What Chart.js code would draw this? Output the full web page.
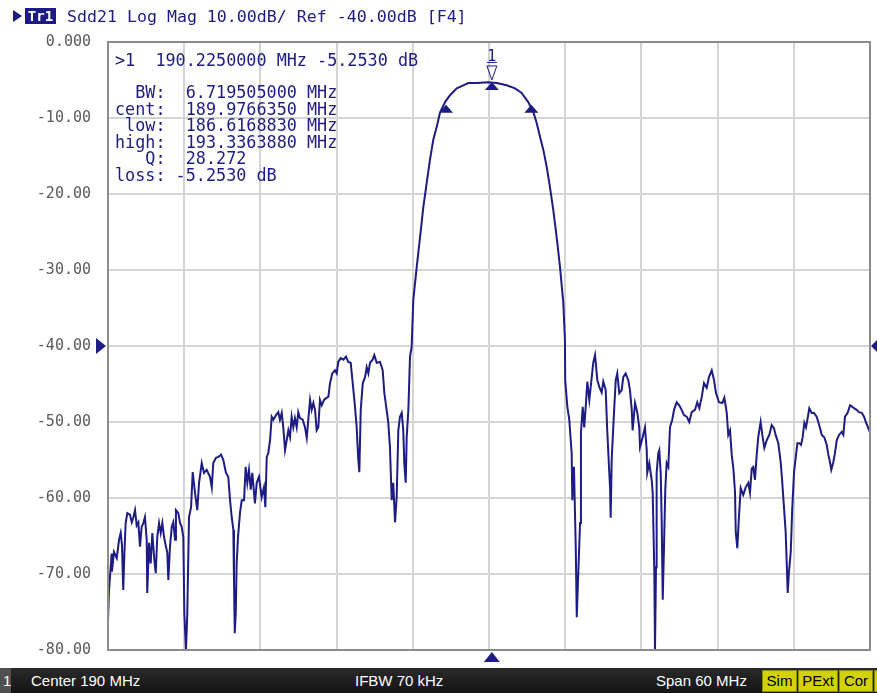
<!DOCTYPE html>
<html>
<head>
<meta charset="utf-8">
<script src="https://cdn.jsdelivr.net/npm/chart.js@4.4.1/dist/chart.umd.min.js"></script>
<style>
  html, body { margin: 0; padding: 0; background: #ffffff; }
  #wrap { position: relative; width: 877px; height: 693px; overflow: hidden; background: #fff; }
  #c { position: absolute; left: 0; top: 0; }
  .mono { position: absolute; font-family: "DejaVu Sans Mono", monospace; white-space: pre; color: #1c1c84; line-height: 1; }
  #tri { position: absolute; left: 13px; top: 10px; width: 0; height: 0;
         border-left: 9px solid #1c1c84; border-top: 6px solid transparent; border-bottom: 6px solid transparent; }
  #tr1 { position: absolute; left: 25px; top: 8px; width: 31px; height: 16px; background: #1c1c84; color: #fff;
         font-family: "DejaVu Sans Mono", monospace; font-weight: bold; font-size: 14px; line-height: 16px; text-align: center; }
  #status { position: absolute; left: 0; top: 668px; width: 877px; height: 25px;
            background: linear-gradient(#2a2a2a, #141414); color: #fff;
            font-family: "Liberation Sans Narrow", "Liberation Sans", sans-serif; font-size: 15px; }
  #status span { position: absolute; top: 4px; line-height: 17px; }
  .yb { position: absolute; top: 2px; height: 20px; background: #d2d200; color: #000; border: 1px solid #8a8a00;
        font-family: "Liberation Sans Narrow", "Liberation Sans", sans-serif; font-size: 15px; line-height: 20px; text-align: center; }
</style>
</head>
<body>
<div id="wrap">
  <canvas id="c" width="877" height="693"></canvas>
  <div id="tri"></div>
  <div id="tr1">Tr1</div>
  <div class="mono" style="left:67px; top:9px; font-size:16.6px;">Sdd21 Log Mag 10.00dB/ Ref -40.00dB [F4]</div>
  <div class="mono" style="left:115px; top:52px; font-size:16.8px;">&gt;1  190.2250000 MHz -5.2530 dB</div>
  <div class="mono" style="left:115px; top:84px; font-size:16.8px; line-height:16.5px;">  BW:  6.719505000 MHz
cent:  189.9766350 MHz
 low:  186.6168830 MHz
high:  193.3363880 MHz
   Q:  28.272
loss: -5.2530 dB</div>
  <div id="status">
    <div style="position:absolute;left:0;top:0;width:11px;height:25px;background:#505050;"></div>
    <span style="left:3px;">1</span>
    <span style="left:31px;">Center 190 MHz</span>
    <span style="left:355px;">IFBW 70 kHz</span>
    <span style="left:656px;">Span 60 MHz</span>
    <div class="yb" style="left:762px; width:33px;">Sim</div>
    <div class="yb" style="left:798px; width:38px;">PExt</div>
    <div class="yb" style="left:839px; width:32px;">Cor</div>
    <div class="yb" style="left:874px; width:8px;"></div>
  </div>
</div>
<script>
// ---- data (frequency in MHz, Sdd21 in dB) ----
const freqMHz = [
160.00,160.08,160.29,160.31,160.47,160.69,160.87,161.00,161.10,161.20,161.28,161.39,161.52,161.73,161.87,161.99,162.13,162.26,162.39,162.52,
162.65,162.78,162.91,163.05,163.09,163.23,163.36,163.49,163.65,163.76,163.88,164.02,164.15,164.28,164.41,164.54,164.67,164.75,164.88,165.02,
165.14,165.28,165.35,165.54,165.67,165.80,165.93,166.01,166.14,166.24,166.38,166.54,166.67,166.85,167.03,167.17,167.38,167.56,167.77,168.03,
168.17,168.29,168.50,168.69,168.90,169.08,169.29,169.47,169.61,169.74,169.87,169.92,169.98,170.06,170.13,170.24,170.39,170.53,170.71,170.84,
170.97,171.10,171.24,171.36,171.57,171.71,171.89,172.10,172.28,172.39,172.50,172.62,172.76,172.89,173.02,173.23,173.41,173.54,173.68,173.80,
173.94,174.07,174.20,174.33,174.46,174.59,174.72,174.86,174.98,175.12,175.33,175.51,175.65,175.77,175.91,176.04,176.17,176.30,176.43,176.56,
176.69,176.83,177.01,177.22,177.35,177.48,177.66,177.87,178.01,178.13,178.32,178.53,178.74,178.92,179.11,179.27,179.45,179.58,179.71,179.79,
179.90,180.06,180.24,180.37,180.50,180.63,180.84,180.97,181.16,181.42,181.63,181.76,181.94,182.07,182.20,182.34,182.46,182.60,182.73,182.86,
182.99,183.13,183.25,183.33,183.44,183.52,183.65,183.78,183.91,184.04,184.31,184.57,184.83,185.09,185.35,185.61,185.88,186.14,186.54,186.93,
187.46,187.98,188.37,189.03,189.94,190.61,191.39,192.05,192.57,193.09,193.49,193.76,194.02,194.28,194.54,194.80,195.06,195.33,195.59,195.85,
195.98,196.00,196.17,196.32,196.51,196.56,196.69,196.83,196.91,197.03,197.17,197.24,197.38,197.50,197.64,197.74,197.90,198.09,198.21,198.35,
198.53,198.69,198.87,199.00,199.19,199.31,199.45,199.53,199.58,199.66,199.84,199.98,200.10,200.26,200.45,200.57,200.76,200.97,201.10,201.24,
201.31,201.50,201.68,201.83,201.89,202.10,202.28,202.42,202.46,202.62,202.81,202.89,203.02,203.07,203.15,203.20,203.33,203.41,203.52,203.60,
203.68,203.78,203.88,203.99,204.12,204.25,204.43,204.57,204.78,204.98,205.17,205.35,205.57,205.77,205.96,206.22,206.40,206.56,206.75,206.93,
207.14,207.32,207.54,207.72,207.87,208.11,208.37,208.53,208.72,208.84,208.98,209.11,209.24,209.37,209.43,209.55,209.69,209.82,210.02,210.21,
210.42,210.55,210.69,210.81,210.94,211.08,211.20,211.39,211.52,211.68,211.87,212.07,212.26,212.44,212.57,212.78,212.97,213.09,213.23,213.36,
213.44,213.52,213.62,213.76,213.88,214.02,214.15,214.28,214.43,214.57,214.70,214.83,214.96,215.09,215.22,215.41,215.59,215.80,215.93,216.06,
216.20,216.40,216.59,216.72,216.85,216.95,217.11,217.24,217.38,217.56,217.77,217.90,218.03,218.24,218.43,218.61,218.76,218.95,219.13,219.35,
219.53,219.69,219.87,220.00
];
const sdd21dB = [
-76.1,-72.1,-67.3,-69.7,-67.1,-67.9,-65.5,-64.6,-66.2,-72.1,-67.8,-63.3,-62.0,-62.2,-63.2,-62.6,-61.6,-63.6,-63.2,-66.4,
-63.8,-63.3,-62.5,-65.5,-72.5,-65.9,-68.6,-64.6,-68.2,-69.9,-65.1,-63.3,-64.6,-63.3,-65.1,-66.2,-67.2,-70.8,-66.4,-63.8,
-63.2,-65.5,-61.6,-62.0,-63.3,-63.8,-65.1,-75.1,-80.0,-75.4,-62.5,-61.2,-56.6,-59.3,-61.6,-58.0,-55.4,-56.7,-56.3,-57.2,
-58.6,-55.4,-54.7,-54.6,-54.3,-55.0,-56.7,-57.2,-60.3,-62.5,-64.2,-70.8,-77.8,-75.1,-68.6,-65.1,-62.0,-60.3,-60.3,-55.9,
-58.0,-56.3,-58.9,-56.7,-60.7,-58.0,-57.2,-59.9,-58.6,-61.2,-54.6,-54.1,-52.4,-49.3,-49.7,-49.1,-48.7,-49.7,-48.8,-50.7,
-53.7,-52.4,-51.1,-52.0,-49.3,-50.7,-49.5,-50.7,-48.7,-49.5,-49.7,-50.7,-52.1,-49.7,-47.1,-48.4,-47.5,-48.4,-51.1,-50.7,
-47.1,-47.8,-47.1,-46.8,-46.7,-44.9,-43.6,-43.2,-43.6,-42.1,-41.6,-41.8,-41.4,-42.1,-42.2,-44.9,-48.0,-50.7,-55.0,-56.6,
-48.4,-44.9,-44.1,-42.8,-43.6,-42.2,-41.8,-41.2,-42.2,-42.1,-43.2,-46.2,-48.4,-50.1,-53.3,-60.3,-58.0,-63.2,-59.9,-51.1,
-49.3,-48.8,-51.1,-55.4,-58.0,-52.0,-48.4,-41.4,-40.1,-33.9,-29.6,-25.7,-21.7,-18.6,-15.5,-12.9,-11.2,-9.3,-7.9,-7.0,
-6.1,-5.7,-5.4,-5.4,-5.3,-5.4,-5.7,-6.1,-6.7,-7.9,-9.2,-10.7,-12.5,-14.2,-16.4,-19.1,-22.1,-25.7,-29.6,-34.3,
-39.2,-44.5,-48.0,-49.7,-54.1,-60.3,-55.9,-66.4,-75.7,-69.9,-63.3,-51.4,-48.0,-50.7,-47.4,-44.7,-47.1,-44.1,-42.2,-41.2,
-44.5,-45.4,-46.1,-44.7,-45.8,-51.1,-55.9,-58.6,-62.6,-55.0,-48.8,-44.5,-43.6,-46.2,-45.8,-44.1,-43.6,-44.5,-45.8,-48.4,
-51.1,-47.5,-48.8,-50.7,-53.3,-52.0,-50.7,-53.7,-56.7,-55.4,-57.6,-59.3,-69.9,-80.0,-69.1,-56.7,-54.1,-53.7,-56.7,-63.3,
-73.4,-66.4,-58.9,-55.4,-55.9,-50.7,-49.7,-48.4,-47.4,-47.8,-48.4,-49.1,-49.3,-50.0,-48.7,-48.4,-47.4,-48.2,-46.7,-44.9,
-45.5,-44.1,-43.2,-44.5,-46.2,-47.4,-47.5,-46.8,-48.8,-51.7,-51.1,-54.3,-56.1,-59.2,-64.5,-66.6,-62.2,-58.7,-59.6,-58.6,
-58.0,-59.3,-56.1,-55.9,-57.6,-54.3,-52.0,-50.0,-51.7,-53.4,-52.4,-51.7,-50.4,-50.8,-51.7,-52.8,-55.3,-57.9,-61.3,-64.5,
-68.4,-72.5,-69.7,-67.1,-61.3,-56.6,-54.7,-52.8,-52.8,-53.0,-52.0,-50.1,-50.7,-49.5,-48.2,-48.8,-48.8,-49.3,-50.0,-50.8,
-51.7,-52.0,-53.0,-54.3,-55.3,-56.3,-55.3,-54.1,-52.4,-51.7,-51.3,-51.7,-49.3,-48.8,-47.8,-48.0,-48.2,-48.4,-48.7,-48.8,
-49.3,-50.1,-50.8,-51.4
];
const yTickValues = [0, -10, -20, -30, -40, -50, -60, -70, -80];
const yTickLabels = ["0.000", "-10.00", "-20.00", "-30.00", "-40.00", "-50.00", "-60.00", "-70.00", "-80.00"];
const refLevel = -40;
// markers: low, marker 1, high
const markerFreqs = [186.6168830, 190.2250000, 193.3363880];
const markerLevels = [-8.2530, -5.2530, -8.2530];

const NAVY = '#1c1c84';

const overlay = {
  id: 'overlay',
  afterDatasetsDraw(chart) {
    const ctx = chart.ctx, a = chart.chartArea;
    const xs = chart.scales.x, ys = chart.scales.y;
    ctx.save();
    // frame
    ctx.strokeStyle = '#8c8c8c';
    ctx.lineWidth = 2;
    ctx.strokeRect(a.left, a.top, a.right - a.left, a.bottom - a.top);
    ctx.fillStyle = NAVY;
    // marker triangles on trace (apex at the point)
    for (let i = 0; i < markerFreqs.length; i++) {
      const px = xs.getPixelForValue(markerFreqs[i]);
      const py = ys.getPixelForValue(markerLevels[i]);
      ctx.beginPath();
      ctx.moveTo(px, py);
      ctx.lineTo(px + 7, py + 8);
      ctx.lineTo(px - 7, py + 8);
      ctx.closePath();
      ctx.fill();
    }
    // marker 1 label with open triangle
    const mx = xs.getPixelForValue(markerFreqs[1]);
    const my = ys.getPixelForValue(markerLevels[1]);
    ctx.strokeStyle = NAVY;
    ctx.lineWidth = 1;
    ctx.beginPath();
    ctx.moveTo(mx - 5, my - 16);
    ctx.lineTo(mx + 5, my - 16);
    ctx.lineTo(mx, my - 2);
    ctx.closePath();
    ctx.stroke();
    ctx.beginPath();
    ctx.moveTo(mx - 5, my - 19.5); ctx.lineTo(mx + 5, my - 19.5); ctx.stroke();
    ctx.font = '15px "DejaVu Sans Mono"';
    ctx.textAlign = 'center';
    ctx.textBaseline = 'alphabetic';
    ctx.fillText('1', mx, my - 21);
    // active marker indicator below the grid
    ctx.beginPath();
    ctx.moveTo(mx, a.bottom + 2);
    ctx.lineTo(mx + 8, a.bottom + 12);
    ctx.lineTo(mx - 8, a.bottom + 12);
    ctx.closePath();
    ctx.fill();
    // reference level indicators
    const ry = ys.getPixelForValue(refLevel);
    ctx.beginPath();
    ctx.moveTo(a.left - 12, ry - 8);
    ctx.lineTo(a.left - 2, ry);
    ctx.lineTo(a.left - 12, ry + 8);
    ctx.closePath();
    ctx.fill();
    ctx.beginPath();
    ctx.moveTo(a.right + 8, ry - 7);
    ctx.lineTo(a.right + 1, ry);
    ctx.lineTo(a.right + 8, ry + 7);
    ctx.closePath();
    ctx.fill();
    ctx.restore();
  }
};

new Chart(document.getElementById('c'), {
  type: 'line',
  data: {
    datasets: [{
      data: freqMHz.map((f, i) => ({ x: f, y: sdd21dB[i] })),
      borderColor: NAVY,
      borderWidth: 2,
      pointRadius: 0,
      tension: 0,
      fill: false
    }]
  },
  options: {
    responsive: false,
    animation: false,
    devicePixelRatio: 1,
    layout: { padding: { left: 0, top: 42, right: 7, bottom: 43 } },
    plugins: { legend: { display: false }, tooltip: { enabled: false }, title: { display: false } },
    scales: {
      x: {
        type: 'linear', min: 160, max: 220,
        ticks: { display: false, stepSize: 6 },
        grid: { color: '#d4d4d4', lineWidth: 2, drawTicks: false },
        border: { display: false },
        afterFit(s) { s.height = 0; }
      },
      y: {
        type: 'linear', min: -80, max: 0,
        afterBuildTicks(s) { s.ticks = yTickValues.map(v => ({ value: v })); },
        ticks: {
          callback: (v) => yTickLabels[yTickValues.indexOf(v)],
          color: '#5a5a5a',
          font: { family: 'DejaVu Sans Mono', size: 15 },
          padding: 17
        },
        grid: { color: '#d4d4d4', lineWidth: 2, drawTicks: false },
        border: { display: false },
        afterFit(s) { s.width = 108; }
      }
    }
  },
  plugins: [overlay]
});
</script>
</body>
</html>
